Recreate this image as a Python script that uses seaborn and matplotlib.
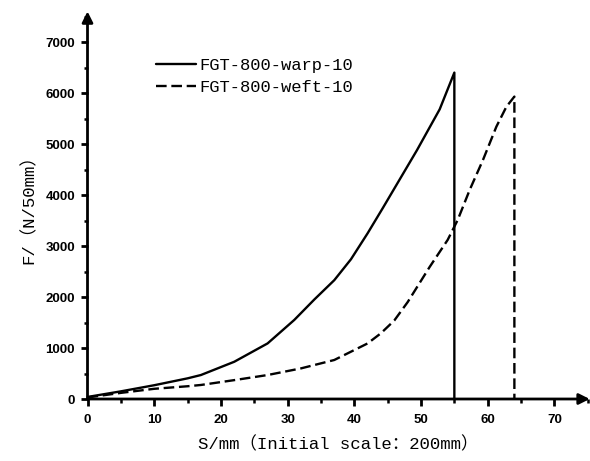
import numpy as np
import pandas as pd
import matplotlib
matplotlib.use("Agg")
import matplotlib.pyplot as plt
import seaborn as sns
from matplotlib.ticker import MultipleLocator

# ---- data ----
warp_s = [0, 5, 10, 15, 17, 22, 27, 31, 34, 37, 39.5, 42, 44.3, 49.4, 52.8, 55, 55]
warp_f = [40, 150, 270, 405, 470, 730, 1090, 1550, 1950, 2330, 2740, 3250, 3750, 4880, 5680, 6400, 0]
weft_s = [0, 5, 10, 15, 17, 22, 27, 32, 37, 42, 44, 46, 48, 51.3, 54, 55.5, 57.3, 59.3, 61.3, 62.8, 64, 64]
weft_f = [30, 120, 200, 250, 275, 370, 470, 600, 765, 1090, 1290, 1540, 1900, 2590, 3120, 3510, 4100, 4690, 5340, 5730, 5930, 0]
labels = ["FGT-800-warp-10", "FGT-800-weft-10"]
x_ticks = [0, 10, 20, 30, 40, 50, 60, 70]
y_ticks = [0, 1000, 2000, 3000, 4000, 5000, 6000, 7000]

df = pd.concat([
    pd.DataFrame({"S": warp_s, "F": warp_f, "sample": labels[0]}),
    pd.DataFrame({"S": weft_s, "F": weft_f, "sample": labels[1]}),
], ignore_index=True)

sns.set_theme(style="white")
plt.rcParams["font.family"] = ["Liberation Mono", "Noto Sans CJK SC", "DejaVu Sans"]

fig = plt.figure(figsize=(5.9, 4.61), dpi=100)
W, H = 590, 461
x0_px, y0_px = 87.5, 399
px_per_10 = 66.7
px_per_1000 = 51.0
xmax, ymax = 75.3, 7600
ax_w = xmax / 10 * px_per_10
ax_h = ymax / 1000 * px_per_1000
ax = fig.add_axes([x0_px / W, (H - y0_px) / H, ax_w / W, ax_h / H])

sns.lineplot(data=df, x="S", y="F", hue="sample", style="sample",
             palette={labels[0]: "black", labels[1]: "black"},
             dashes={labels[0]: "", labels[1]: (4.5, 2)},
             sort=False, estimator=None, lw=1.7, ax=ax, clip_on=False)

ax.set_xlim(0, xmax)
ax.set_ylim(0, ymax)
for s in ax.spines.values():
    s.set_visible(False)

# axis lines with arrows
ax.annotate("", xy=(1, 0), xytext=(0, 0), xycoords="axes fraction",
            arrowprops=dict(arrowstyle="-|>", lw=2.0, color="black", mutation_scale=16,
                            shrinkA=0, shrinkB=0))
ax.annotate("", xy=(0, 1), xytext=(0, 0), xycoords="axes fraction",
            arrowprops=dict(arrowstyle="-|>", lw=2.0, color="black", mutation_scale=16,
                            shrinkA=0, shrinkB=0))

ax.set_xticks(x_ticks)
ax.set_yticks(y_ticks)
ax.xaxis.set_minor_locator(MultipleLocator(5))
ax.yaxis.set_minor_locator(MultipleLocator(500))
ax.tick_params(axis="both", which="major", direction="out", length=5, width=2,
               color="black", bottom=True, left=True)
ax.tick_params(axis="both", which="minor", direction="out", length=3, width=1.8,
               color="black", bottom=True, left=True)
ax.tick_params(axis="x", which="major", pad=6)
ax.tick_params(axis="y", which="major", pad=4)
for lab in ax.get_xticklabels() + ax.get_yticklabels():
    lab.set_family("Liberation Sans")
    lab.set_fontweight("bold")
    lab.set_fontsize(9.5)
    lab.set_color("black")

ax.set_xlabel("S/mm\uff08Initial scale\uff1a200mm\uff09", fontsize=12.5, color="black", labelpad=7)
ax.set_ylabel("F/\uff08N/50mm\uff09", fontsize=12.5, color="black", labelpad=6)

leg = ax.legend(loc="upper left", bbox_to_anchor=(156 / W, 1 - 58 / H),
                bbox_transform=fig.transFigure, frameon=False, fontsize=12.3,
                handlelength=2.35, handletextpad=0.2, labelspacing=0.42,
                borderpad=0, borderaxespad=0)
for t in leg.get_texts():
    t.set_color("black")

fig.savefig("out.png", dpi=100)
